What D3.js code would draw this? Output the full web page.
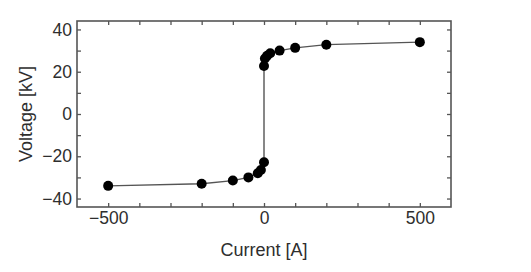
<!doctype html>
<html>
<head>
<meta charset="utf-8">
<script src="https://d3js.org/d3.v7.min.js"></script>
<style>
  body { margin: 0; background: #fff; }
  svg { display: block; font-family: "Liberation Sans", Arial, sans-serif; }
  .axis path { display: none; }
  .axis line { stroke: #555; stroke-width: 1.3; }
  .axis text { fill: #2e2e2e; font-size: 17.5px; }
</style>
</head>
<body>
<svg id="chart" width="531" height="272"></svg>
<script>
// current [A] and voltage [kV]
var current = [-500, -200, -100, -50, -20, -10, 0, 0, 3, 10, 20, 50, 100, 200, 500];
var voltage = [-34, -33, -31.5, -30, -28, -26.5, -22.8, 22.7, 26.3, 27.6, 28.7, 30, 31.3, 32.8, 34];

var xTicks = d3.range(-500, 501, 100),
    xLabels = [-500, 0, 500],
    yTicks = d3.range(-40, 41, 10),
    yLabels = [-40, -20, 0, 20, 40];

var width = 531, height = 272,
    margin = {top: 21, right: 80, bottom: 65, left: 77};

var svg = d3.select("#chart");

var x = d3.scaleLinear()
    .domain([-600, 600])
    .range([margin.left, width - margin.right]);

var y = d3.scaleLinear()
    .domain([-44, 44])
    .range([height - margin.bottom, margin.top]);

var fmt = d3.format("");
function lab(list) {
    return function(d) { return list.indexOf(d) >= 0 ? fmt(d) : ""; };
}

svg.append("g").attr("class", "axis")
    .attr("transform", `translate(0,${y.range()[0]})`)
    .call(d3.axisBottom(x).tickValues(xTicks).tickSize(-4).tickPadding(5).tickFormat(lab(xLabels)));
svg.append("g").attr("class", "axis")
    .attr("transform", `translate(0,${y.range()[1]})`)
    .call(d3.axisTop(x).tickValues(xTicks).tickSize(-4).tickFormat(""));
svg.append("g").attr("class", "axis")
    .attr("transform", `translate(${x.range()[0]},0)`)
    .call(d3.axisLeft(y).tickValues(yTicks).tickSize(-4).tickPadding(5).tickFormat(lab(yLabels)));
svg.append("g").attr("class", "axis")
    .attr("transform", `translate(${x.range()[1]},0)`)
    .call(d3.axisRight(y).tickValues(yTicks).tickSize(-4).tickFormat(""));

// frame
svg.append("rect")
    .attr("x", x.range()[0])
    .attr("y", y.range()[1])
    .attr("width", x.range()[1] - x.range()[0])
    .attr("height", y.range()[0] - y.range()[1])
    .attr("fill", "none")
    .attr("stroke", "#555")
    .attr("stroke-width", 1.6);

var pts = current.map((c, i) => ({c: c, v: voltage[i]}));

svg.append("path")
    .datum(pts)
    .attr("fill", "none")
    .attr("stroke", "#555")
    .attr("stroke-width", 1.4)
    .attr("d", d3.line().x(d => x(d.c)).y(d => y(d.v)));

svg.selectAll("circle.pt")
    .data(pts)
    .enter().append("circle")
    .attr("class", "pt")
    .attr("cx", d => x(d.c))
    .attr("cy", d => y(d.v))
    .attr("r", 5)
    .attr("fill", "#000");

svg.append("text")
    .attr("x", (x.range()[0] + x.range()[1]) / 2)
    .attr("y", 256)
    .attr("text-anchor", "middle")
    .attr("fill", "#2e2e2e")
    .style("font-size", "18px")
    .text("Current [A]");

svg.append("text")
    .attr("transform", `translate(32,${y(0)}) rotate(-90)`)
    .attr("text-anchor", "middle")
    .attr("fill", "#2e2e2e")
    .style("font-size", "18px")
    .text("Voltage [kV]");
</script>
</body>
</html>
